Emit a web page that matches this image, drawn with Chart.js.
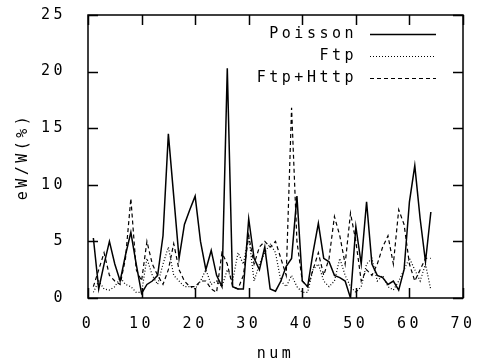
<!DOCTYPE html>
<html><head><meta charset="utf-8">
<script src="https://cdn.jsdelivr.net/npm/chart.js@4.4.1/dist/chart.umd.min.js"></script>
<style>html,body{margin:0;padding:0;background:#fff;overflow:hidden}#wrap{width:477px;height:363px}</style>
</head><body><div id="wrap"><canvas id="c" width="477" height="363"></canvas></div>
<script>
const nums = [1,2,3,4,5,6,7,8,9,10,11,12,13,14,15,16,17,18,19,20,21,22,23,24,25,26,27,28,29,30,31,32,33,34,35,36,37,38,39,40,41,42,43,44,45,46,47,48,49,50,51,52,53,54,55,56,57,58,59,60,61,62,63,64];
const poisson = [5.3,0.8,3.0,5.0,3.0,1.5,3.8,5.8,3.0,0.4,1.2,1.5,2.0,5.5,14.5,9.0,3.5,6.5,7.8,9.0,5.0,2.5,4.2,2.0,1.0,20.3,1.0,0.8,0.8,7.0,3.5,2.5,4.5,0.8,0.6,1.5,2.8,3.5,9.0,1.5,1.0,4.0,6.6,3.5,3.2,2.0,1.8,1.5,0.0,6.3,3.0,8.5,3.0,2.0,1.8,1.2,1.5,0.7,2.5,8.5,11.7,7.0,3.2,7.6];
const ftp = [0.5,1.5,0.8,0.7,1.0,1.8,1.2,1.0,0.5,0.5,3.5,2.0,1.2,3.0,4.5,2.0,1.5,1.0,1.0,0.8,1.5,2.5,1.2,1.5,1.0,2.5,1.5,4.0,3.0,5.5,1.5,3.0,4.0,4.8,4.0,1.5,1.0,2.0,1.0,0.5,0.5,2.5,3.0,1.5,1.0,1.5,3.5,2.0,1.0,0.5,1.0,3.0,3.5,1.5,2.0,1.0,0.7,1.5,2.5,3.5,2.5,1.5,3.0,0.7];
const ftpHttp = [1.0,2.5,4.0,2.0,1.5,1.2,3.5,8.8,2.5,1.5,5.0,3.0,2.0,1.2,2.5,4.8,2.5,1.5,1.0,1.0,1.5,1.5,0.8,0.5,4.0,3.0,1.0,0.8,2.0,5.5,3.0,4.5,5.0,4.5,5.0,3.5,2.0,16.8,5.0,1.5,1.0,2.5,4.0,2.0,3.5,7.2,5.5,3.0,7.5,5.0,1.5,2.5,2.0,3.0,4.5,5.5,3.0,7.8,6.5,3.0,1.5,2.5,3.5,3.5];
const seriesNames = ['Poisson','Ftp','Ftp+Http'];
const xTicks = [0,10,20,30,40,50,60,70];
const yTicks = [0,5,10,15,20,25];
const xTitle = 'num';
const yTitle = 'eW/W(%)';

const LS = '3.5px';
const FONT = {family: '"DejaVu Sans Mono", monospace', size: 15};
const pts = arr => arr.map((v,i)=>({x: nums[i], y: v}));

const spacing = {
  id: 'spacing',
  beforeDraw(chart){ chart.ctx.letterSpacing = LS; },
  beforeLayout(chart){ chart.ctx.letterSpacing = LS; }
};

const frame = {
  id: 'frame',
  afterDatasetsDraw(chart){
    const {ctx, chartArea: a, scales: {x, y}} = chart;
    ctx.save();
    ctx.strokeStyle = '#000';
    ctx.lineWidth = 1.5;
    ctx.setLineDash([]);
    ctx.strokeRect(a.left, a.top, a.right - a.left, a.bottom - a.top);
    const L = 10;
    ctx.beginPath();
    xTicks.forEach(t => {
      const px = Math.round(x.getPixelForValue(t)) + 0.5;
      ctx.moveTo(px, a.bottom); ctx.lineTo(px, a.bottom - L);
      ctx.moveTo(px, a.top); ctx.lineTo(px, a.top + L);
    });
    yTicks.forEach(t => {
      const py = Math.round(y.getPixelForValue(t)) + 0.5;
      ctx.moveTo(a.left, py); ctx.lineTo(a.left + L, py);
      ctx.moveTo(a.right, py); ctx.lineTo(a.right - L, py);
    });
    ctx.stroke();
    // legend
    ctx.font = '15px "DejaVu Sans Mono", monospace';
    ctx.letterSpacing = LS;
    ctx.fillStyle = '#000';
    ctx.textAlign = 'right';
    ctx.textBaseline = 'middle';
    chart.data.datasets.forEach((ds, i) => {
      const ly = 34 + i * 22;
      ctx.fillText(ds.label, 357, ly);
      ctx.beginPath();
      ctx.lineWidth = ds.borderWidth;
      ctx.setLineDash(ds.borderDash || []);
      ctx.moveTo(370, ly + 0.5); ctx.lineTo(436, ly + 0.5);
      ctx.stroke();
    });
    ctx.restore();
  }
};

new Chart(document.getElementById('c'), {
  type: 'line',
  data: {
    datasets: [
      {label: seriesNames[0], data: pts(poisson), borderColor: '#000', borderWidth: 1.5, pointRadius: 0, tension: 0},
      {label: seriesNames[1], data: pts(ftp), borderColor: '#000', borderWidth: 1.2, borderDash: [1,2], pointRadius: 0, tension: 0},
      {label: seriesNames[2], data: pts(ftpHttp), borderColor: '#000', borderWidth: 1.2, borderDash: [4,3], pointRadius: 0, tension: 0}
    ]
  },
  options: {
    responsive: false,
    animation: false,
    devicePixelRatio: 1,
    layout: {padding: {left: 0, right: 14, top: 15, bottom: 0}},
    plugins: {legend: {display: false}, tooltip: {enabled: false}},
    scales: {
      x: {
        type: 'linear', min: 0, max: 70,
        afterBuildTicks: s => { s.ticks = xTicks.map(v => ({value: v})); },
        afterFit: s => { s.height = 65; s.paddingLeft = 0; s.paddingRight = 0; },
        grid: {display: false, drawTicks: false},
        border: {display: false},
        ticks: {color: '#000', font: FONT, padding: 17, maxRotation: 0, autoSkip: false},
        title: {display: true, text: xTitle, color: '#000', font: FONT, padding: {top: 0, bottom: 0}}
      },
      y: {
        type: 'linear', min: 0, max: 25,
        afterBuildTicks: s => { s.ticks = yTicks.map(v => ({value: v})); },
        afterFit: s => { s.width = 88; s.paddingTop = 0; s.paddingBottom = 0; },
        grid: {display: false, drawTicks: false},
        border: {display: false},
        ticks: {color: '#000', font: FONT, padding: 22},
        title: {display: true, text: yTitle, color: '#000', font: FONT, padding: {top: 14, bottom: 0}}
      }
    }
  },
  plugins: [spacing, frame]
});
</script></body></html>
